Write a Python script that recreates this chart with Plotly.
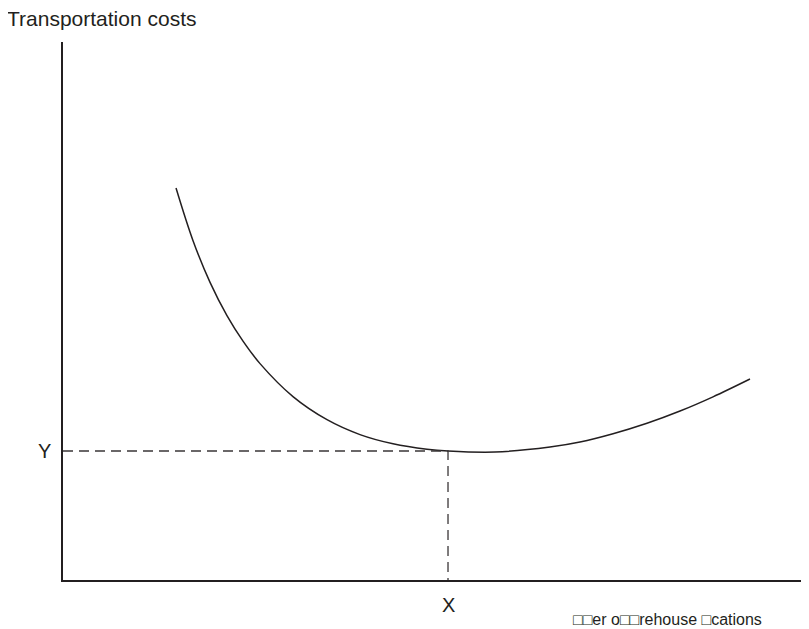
import plotly.graph_objects as go

# Curve data (number of warehouse locations vs transportation costs), arbitrary units
curve_x = [1.515, 1.743, 1.971, 2.198, 2.413, 2.641, 3.083, 3.539, 3.981, 4.424, 4.879,
           5.161, 5.791, 6.528, 6.930, 7.373, 7.828, 8.271, 8.713, 9.209]
curve_y = [7.286, 6.307, 5.532, 4.914, 4.439, 4.022, 3.409, 2.980, 2.703, 2.532, 2.431,
           2.398, 2.379, 2.472, 2.565, 2.719, 2.914, 3.141, 3.405, 3.736]

# Marked point
point_x = 5.161
point_y = 2.398

title_text = "Transportation costs"
xlabel_text = "\u25a1\u25a1er o\u25a1\u25a1rehouse \u25a1cations"
ink = "#231f20"
font = "Liberation Sans, Arial, sans-serif"

fig = go.Figure()
fig.add_trace(go.Scatter(x=curve_x, y=curve_y, mode="lines",
                         line=dict(color=ink, width=1.5, shape="spline", smoothing=1.0),
                         hoverinfo="skip", showlegend=False))
fig.add_trace(go.Scatter(x=[0, point_x, point_x], y=[point_y, point_y, 0], mode="lines",
                         line=dict(color="#3a3637", width=1.3, dash="10px,6px"),
                         hoverinfo="skip", showlegend=False))

fig.update_layout(
    width=801, height=621,
    margin=dict(l=55, r=0, t=34, b=49),
    paper_bgcolor="white", plot_bgcolor="white",
    font=dict(family=font, size=16, color=ink),
    xaxis=dict(range=[0, 10], showgrid=False, zeroline=False, showticklabels=False,
               showline=True, linecolor=ink, linewidth=1.5, ticks=""),
    yaxis=dict(range=[0, 10], showgrid=False, zeroline=False, showticklabels=False,
               showline=True, linecolor=ink, linewidth=1.5, ticks=""),
    annotations=[
        dict(text=title_text, xref="paper", yref="paper", x=0, y=1.0,
             xanchor="left", yanchor="middle", xshift=-58, yshift=24, showarrow=False,
             font=dict(size=21)),
        dict(text="Y", xref="paper", yref="y", x=0, y=point_y, xanchor="center",
             yanchor="middle", xshift=-19, showarrow=False, font=dict(size=20)),
        dict(text="X", xref="x", yref="paper", x=point_x, y=0, yanchor="middle",
             xanchor="center", yshift=-25, showarrow=False, font=dict(size=20)),
        dict(text=xlabel_text, xref="paper", yref="paper", x=0.81, y=0, yanchor="middle",
             xanchor="center", yshift=-39, showarrow=False, font=dict(size=16)),
    ],
)

fig.write_html("out.html")
